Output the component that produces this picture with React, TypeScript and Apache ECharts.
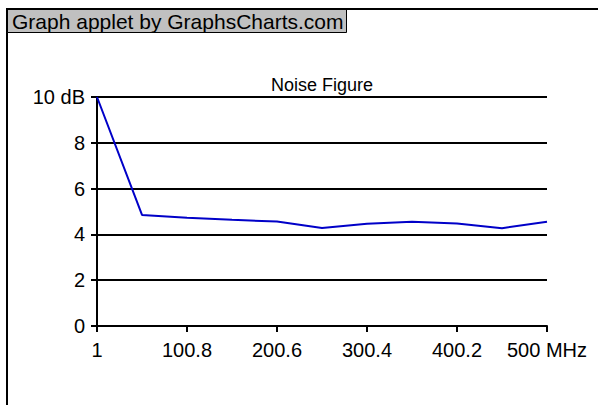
import React, { useEffect, useRef } from "react";
import * as echarts from "echarts";

const freqs = [1, 50.9, 100.8, 150.7, 200.6, 250.5, 300.4, 350.3, 400.2, 450.1, 500];
const noiseDb = [10, 4.85, 4.73, 4.64, 4.56, 4.28, 4.47, 4.55, 4.48, 4.27, 4.55];
const xTicks = [1, 100.8, 200.6, 300.4, 400.2, 500];
const yTicks = [0, 2, 4, 6, 8, 10];
const titleText = "Noise Figure";
const headerText = "Graph applet by GraphsCharts.com";

export default function App() {
  const ref = useRef<HTMLDivElement>(null);
  useEffect(() => {
    if (!ref.current) return;
    const chart = echarts.init(ref.current, null, { renderer: "svg" });
    const font = "Liberation Sans, Arial, sans-serif";
    chart.setOption({
      animation: false,
      backgroundColor: "#ffffff",
      title: {
        text: titleText,
        left: 322,
        textAlign: "center",
        top: 76,
        padding: 0,
        textStyle: { fontFamily: font, fontSize: 18, fontWeight: "normal", color: "#000" },
      },
      grid: { left: 97, right: 51, top: 97, bottom: 79, containLabel: false },
      xAxis: {
        type: "value",
        min: 1,
        max: 500,
        splitLine: { show: false },
        axisLine: { lineStyle: { color: "#000", width: 2 } },
        axisTick: { show: true, length: 6, lineStyle: { color: "#000", width: 2 }, customValues: xTicks },
        axisLabel: {
          customValues: xTicks,
          margin: 14,
          fontFamily: font,
          fontSize: 20,
          color: "#000",
          formatter: (v: number) => (v === 500 ? "500 MHz" : String(v)),
        },
      },
      yAxis: {
        type: "value",
        min: 0,
        max: 10,
        interval: 2,
        splitLine: { show: true, lineStyle: { color: "#000", width: 2 } },
        axisLine: { show: true, lineStyle: { color: "#000", width: 2 } },
        axisTick: { show: true, length: 6, lineStyle: { color: "#000", width: 2 } },
        axisLabel: {
          margin: 12,
          fontFamily: font,
          fontSize: 20,
          color: "#000",
          customValues: yTicks,
          formatter: (v: number) => (v === 10 ? "10 dB" : String(v)),
        },
      },
      series: [
        {
          type: "line",
          data: freqs.map((f, i) => [f, noiseDb[i]]),
          symbol: "none",
          lineStyle: { color: "#0000c8", width: 2 },
          z: 5,
        },
      ],
      graphic: [
        { type: "line", shape: { x1: 7, y1: 9, x2: 598, y2: 9 }, style: { stroke: "#000", lineWidth: 2 } },
        { type: "line", shape: { x1: 7, y1: 8, x2: 7, y2: 405 }, style: { stroke: "#000", lineWidth: 2 } },
        {
          type: "rect",
          shape: { x: 7.5, y: 9.5, width: 339, height: 23 },
          style: { fill: "#c0c0c0", stroke: "#000", lineWidth: 1 },
        },
        { type: "line", shape: { x1: 7, y1: 9, x2: 347, y2: 9 }, style: { stroke: "#000", lineWidth: 2 } },
        {
          type: "text",
          x: 12,
          y: 21,
          style: {
            text: headerText,
            fontFamily: font,
            fontSize: 21,
            fill: "#000",
            verticalAlign: "middle",
          },
        },
      ],
    });
    return () => chart.dispose();
  }, []);
  return (
    <div
      ref={ref}
      style={{ position: "absolute", left: 0, top: 0, width: 598, height: 405 }}
    />
  );
}
